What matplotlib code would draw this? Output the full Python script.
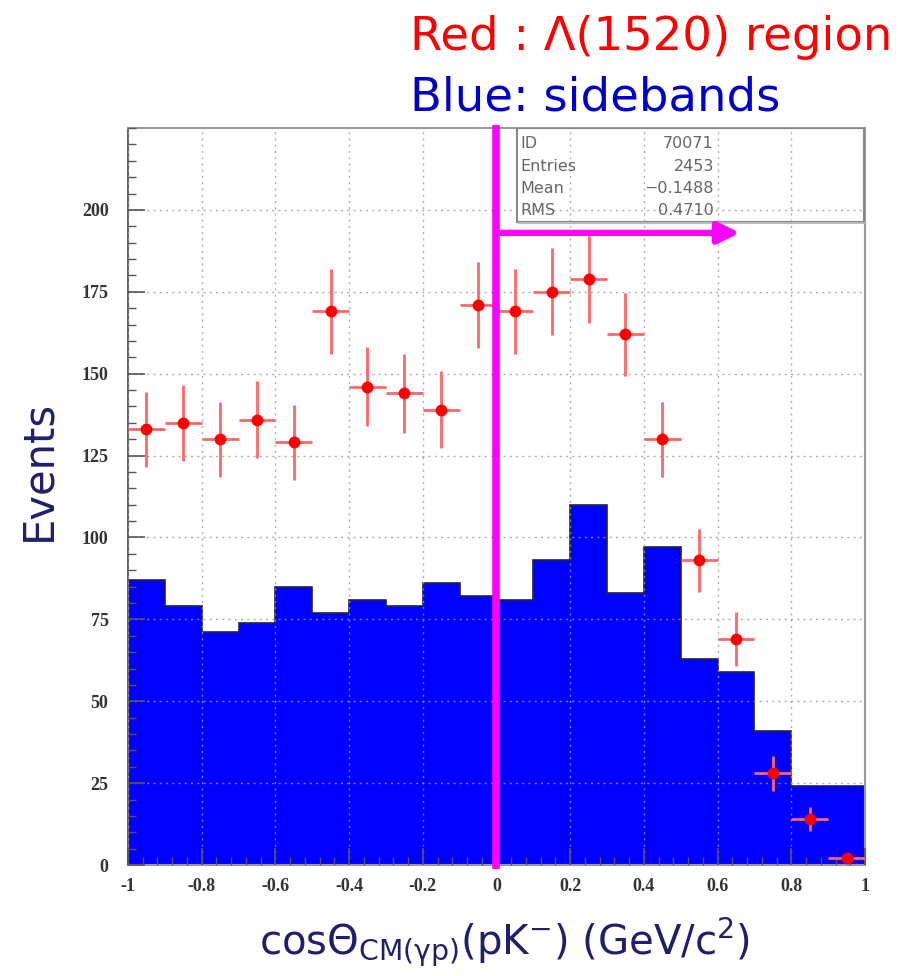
import numpy as np
import matplotlib
matplotlib.use("Agg")
import matplotlib.pyplot as plt
from matplotlib.patches import Rectangle
from matplotlib.ticker import MultipleLocator

plt.rcParams["mathtext.fontset"] = "dejavusans"

# cos(theta_CM) binning, 20 bins from -1 to 1
edges = np.linspace(-1, 1, 21)
centers = 0.5 * (edges[:-1] + edges[1:])

# Lambda(1520) region counts (red points)
signal = [133, 135, 130, 136, 129, 169, 146, 144, 139, 171,
          169, 175, 179, 162, 130, 93, 69, 28, 14, 2]
# sideband counts (blue histogram)
sideband = [87, 79, 71, 74, 85, 77, 81, 79, 86, 82,
            81, 93, 110, 83, 97, 63, 59, 41, 24, 24]

stats_names = ["ID", "Entries", "Mean", "RMS"]
stats_vals = ["70071", "2453", "\u22120.1488", "0.4710"]

navy = "#1f1f6b"
magenta = "#ff00ff"

fig = plt.figure(figsize=(9.03, 9.76), dpi=100)
ax = fig.add_axes([0.1417, 0.1137, 0.8162, 0.7551])

ax.stairs(sideband, edges, fill=True, color="#0000ff", zorder=1)
ax.stairs(sideband, edges, color="#222244", lw=1.2, zorder=1.5)

sig = np.array(signal, dtype=float)
ax.errorbar(centers, sig, yerr=np.sqrt(sig), xerr=0.05, fmt="none",
            ecolor=(1, 0.4, 0.4), elinewidth=2.0, capsize=0, zorder=3)
ax.plot(centers, sig, "o", color="#ff0000", ms=7.5, zorder=4)

ax.set_xlim(-1, 1)
ax.set_ylim(0, 225)
ax.xaxis.set_minor_locator(MultipleLocator(0.04))
ax.yaxis.set_minor_locator(MultipleLocator(5))
ax.set_yticks(np.arange(0, 201, 25))
ax.set_xticks(np.arange(-1, 1.01, 0.2))
ax.set_xticklabels(["-1", "-0.8", "-0.6", "-0.4", "-0.2", "0",
                    "0.2", "0.4", "0.6", "0.8", "1"])

ax.tick_params(which="both", direction="in", color="#555555",
               top=False, right=False)
ax.tick_params(which="major", length=12, width=1.2)
ax.tick_params(which="minor", length=6, width=1.0)
ax.tick_params(axis="y", pad=14)
ax.tick_params(axis="x", pad=9)
for lab in ax.get_xticklabels() + ax.get_yticklabels():
    lab.set_fontfamily("Liberation Serif")
    lab.set_fontweight("bold")
    lab.set_fontsize(13)
    lab.set_color("#333333")

ax.grid(True, which="major", linestyle=(0, (1.5, 3)), color="#999999",
        lw=1.0, alpha=0.8, zorder=2)
ax.set_axisbelow(False)
for side in ["top", "right", "bottom"]:
    ax.spines[side].set_color("#999999")
    ax.spines[side].set_linewidth(1.5)
ax.spines["left"].set_color("#666666")
ax.spines["left"].set_linewidth(1.5)

# statistics box (transparent, outline only)
box = Rectangle((0.528, 0.873), 0.47, 0.127, transform=ax.transAxes,
                fill=False, edgecolor="#888888", lw=1.5, zorder=5)
ax.add_patch(box)
ax.plot([0.53, 0.998], [0.871, 0.871], transform=ax.transAxes,
        color="#bbbbbb", lw=1.5, zorder=5)
for i, (nm, vl) in enumerate(zip(stats_names, stats_vals)):
    yy = 0.979 - i * 0.0305
    ax.text(0.532, yy, nm, transform=ax.transAxes, fontsize=11.5,
            color="#666666", va="center", ha="left", zorder=6)
    ax.text(0.795, yy, vl, transform=ax.transAxes, fontsize=11.5,
            color="#666666", va="center", ha="right", zorder=6)

# boundary at cos = 0 and arrow for the forward region
ax.axvline(0, color=magenta, lw=5.5, zorder=7, clip_on=False,
           ymin=-0.005, ymax=1.004, solid_capstyle="butt")
ax.annotate("", xy=(0.66, 193), xytext=(0.0, 193),
            arrowprops=dict(arrowstyle="-|>", color=magenta, lw=4.5,
                            mutation_scale=32, shrinkA=0, shrinkB=0),
            zorder=7)

fig.text(0.043, 0.518, "Events", rotation=90, fontsize=30, color=navy,
         ha="center", va="center")
fig.text(0.559, 0.035,
         r"cos$\mathrm{\Theta_{CM(\gamma p)}}$(pK$^{-}$) (GeV/c$^{2}$)",
         fontsize=29, color=navy, ha="center", va="center")
fig.text(0.454, 0.962, "Red : \u039b(1520) region", fontsize=33.5,
         color="#ff0000", ha="left", va="center")
fig.text(0.454, 0.900, "Blue: sidebands", fontsize=33.5,
         color="#0000cc", ha="left", va="center")

fig.savefig("out.png", dpi=100)
